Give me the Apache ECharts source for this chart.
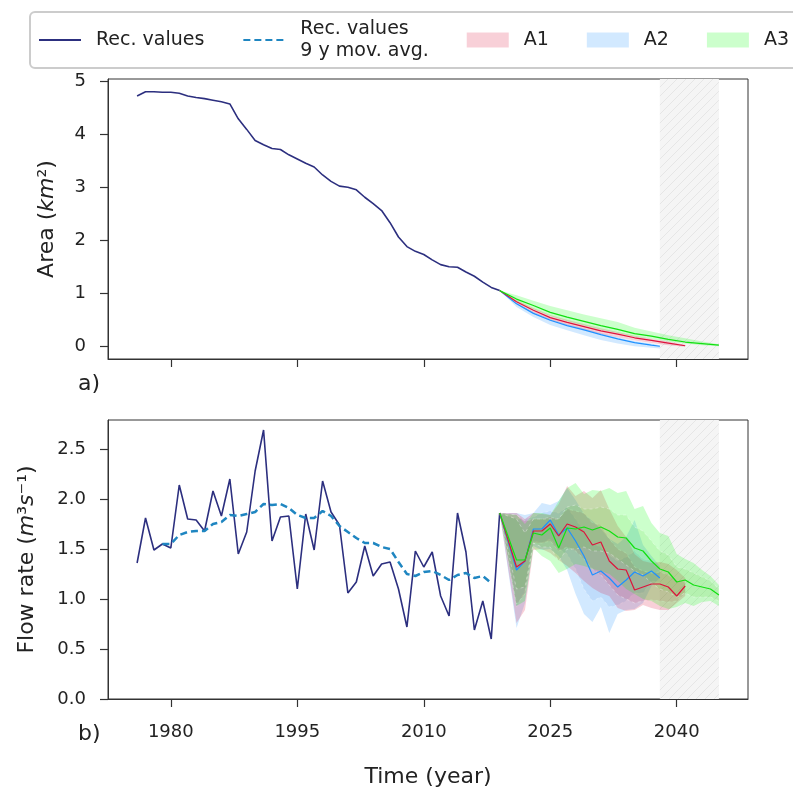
<!DOCTYPE html>
<html>
<head>
<meta charset="utf-8">
<script src="https://cdn.jsdelivr.net/npm/echarts@6/dist/echarts.min.js"></script>
<style>
  html, body { margin: 0; padding: 0; background: #fff; }
  #chart { width: 793px; height: 791px; }
</style>
</head>
<body>
<div id="chart"></div>
<script>
// recorded series, 1976-2019
const recYears = [1976, 1977, 1978, 1979, 1980, 1981, 1982, 1983, 1984, 1985,
  1986, 1987, 1988, 1989, 1990, 1991, 1992, 1993, 1994, 1995,
  1996, 1997, 1998, 1999, 2000, 2001, 2002, 2003, 2004, 2005,
  2006, 2007, 2008, 2009, 2010, 2011, 2012, 2013, 2014, 2015,
  2016, 2017, 2018, 2019];
const areaRec = [4.72, 4.80, 4.80, 4.79, 4.79, 4.77, 4.72, 4.69, 4.67, 4.64,
  4.61, 4.57, 4.29, 4.09, 3.88, 3.80, 3.73, 3.71, 3.61, 3.53,
  3.45, 3.38, 3.23, 3.11, 3.02, 3.00, 2.95, 2.81, 2.69, 2.56,
  2.33, 2.06, 1.88, 1.79, 1.73, 1.63, 1.54, 1.50, 1.49, 1.40,
  1.32, 1.21, 1.11, 1.05];
const flowRec = [1.36, 1.81, 1.49, 1.55, 1.51, 2.14, 1.80, 1.79, 1.68, 2.08,
  1.83, 2.20, 1.45, 1.67, 2.28, 2.69, 1.58, 1.82, 1.83, 1.10,
  1.85, 1.49, 2.18, 1.87, 1.74, 1.06, 1.17, 1.53, 1.23, 1.35,
  1.37, 1.10, 0.72, 1.48, 1.32, 1.47, 1.03, 0.83, 1.86, 1.47,
  0.69, 0.98, 0.60, 1.86];

// 9 y moving average, 1979-2018
const avgYears = [1979, 1980, 1981, 1982, 1983, 1984, 1985, 1986, 1987, 1988,
  1989, 1990, 1991, 1992, 1993, 1994, 1995, 1996, 1997, 1998,
  1999, 2000, 2001, 2002, 2003, 2004, 2005, 2006, 2007, 2008,
  2009, 2010, 2011, 2012, 2013, 2014, 2015, 2016, 2017, 2018];
const flowAvg = [1.55, 1.55, 1.64, 1.67, 1.68, 1.68, 1.75, 1.77, 1.84, 1.83,
  1.85, 1.87, 1.95, 1.94, 1.95, 1.91, 1.84, 1.81, 1.81, 1.88,
  1.83, 1.73, 1.67, 1.61, 1.56, 1.56, 1.52, 1.50, 1.37, 1.25,
  1.23, 1.27, 1.28, 1.24, 1.19, 1.24, 1.26, 1.21, 1.23, 1.16];

// area projections (panel a)
const areaYears = [2019, 2021, 2023, 2025, 2027, 2029, 2031, 2033, 2035, 2037, 2039, 2041, 2043, 2045];
const areaYearsA2 = [2019, 2021, 2023, 2025, 2027, 2029, 2031, 2033, 2035, 2037, 2038];
const areaA1 = [1.05, 0.84, 0.68, 0.54, 0.45, 0.37, 0.29, 0.23, 0.16, 0.11, 0.06, 0.01];
const areaA1Lo = [1.05, 0.80, 0.63, 0.49, 0.40, 0.31, 0.23, 0.17, 0.11, 0.06, 0.02, -0.01];
const areaA1Hi = [1.05, 0.87, 0.72, 0.59, 0.50, 0.42, 0.34, 0.27, 0.20, 0.14, 0.09, 0.03];
const areaA2 = [1.05, 0.80, 0.62, 0.49, 0.39, 0.31, 0.22, 0.14, 0.07, 0.02, 0.00];
const areaA2Lo = [1.05, 0.74, 0.55, 0.40, 0.30, 0.21, 0.12, 0.05, 0.00, -0.03, -0.04];
const areaA2Hi = [1.05, 0.82, 0.65, 0.52, 0.42, 0.34, 0.25, 0.17, 0.10, 0.05, 0.02];
const areaA3 = [1.05, 0.89, 0.77, 0.64, 0.55, 0.47, 0.39, 0.32, 0.24, 0.19, 0.13, 0.08, 0.05, 0.02];
const areaA3Lo = [1.05, 0.85, 0.70, 0.57, 0.47, 0.39, 0.31, 0.25, 0.18, 0.14, 0.09, 0.05, 0.02, 0.00];
const areaA3Hi = [1.05, 0.96, 0.86, 0.76, 0.68, 0.60, 0.53, 0.46, 0.35, 0.28, 0.21, 0.15, 0.09, 0.04];

// flow projections (panel b), no 2020 step
const projYears = [2019, 2021, 2022, 2023, 2024, 2025, 2026, 2027, 2028, 2029,
  2030, 2031, 2032, 2033, 2034, 2035, 2036, 2037, 2038, 2039,
  2040, 2041, 2042, 2043, 2044, 2045];
const flowA1 = [1.86, 1.32, 1.38, 1.68, 1.68, 1.75, 1.63, 1.75, 1.72, 1.67, 1.54, 1.57, 1.38, 1.30, 1.29, 1.09, 1.12, 1.15, 1.15, 1.12, 1.03, 1.13];
const flowA1Lo = [1.86, 0.76, 0.89, 1.49, 1.50, 1.46, 1.39, 1.33, 1.26, 1.18, 1.11, 1.06, 1.03, 0.91, 0.88, 0.89, 0.94, 0.91, 0.89, 0.89, 0.96, 1.03];
const flowA1Hi = [1.86, 1.86, 1.80, 1.86, 1.85, 1.84, 1.95, 2.13, 2.03, 2.08, 2.01, 2.09, 1.90, 1.73, 1.62, 1.45, 1.38, 1.36, 1.37, 1.35, 1.29, 1.21];
const flowA1InLo = [1.86, 0.95, 1.05, 1.56, 1.56, 1.58, 1.48, 1.52, 1.48, 1.40, 1.30, 1.24, 1.14, 1.04, 1.00, 0.96, 0.98, 0.99, 0.98, 0.97, 0.98, 1.07];
const flowA1InHi = [1.86, 1.84, 1.78, 1.80, 1.80, 1.82, 1.80, 1.90, 1.88, 1.86, 1.76, 1.74, 1.60, 1.50, 1.46, 1.32, 1.28, 1.26, 1.27, 1.24, 1.18, 1.17];
const flowA2 = [1.86, 1.29, 1.38, 1.70, 1.70, 1.79, 1.64, 1.71, 1.58, 1.43, 1.24, 1.28, 1.21, 1.12, 1.19, 1.27, 1.23, 1.28, 1.21];
const flowA2Lo = [1.86, 0.71, 0.96, 1.53, 1.49, 1.50, 1.43, 1.29, 1.05, 0.85, 0.77, 0.92, 0.66, 0.85, 0.89, 0.90, 0.96, 1.13, 1.21];
const flowA2Hi = [1.86, 1.86, 1.84, 1.86, 1.96, 1.94, 1.98, 2.11, 1.99, 1.85, 1.78, 1.70, 1.60, 1.55, 1.62, 1.79, 1.54, 1.43, 1.33];
const flowA2InLo = [1.86, 0.92, 1.08, 1.58, 1.56, 1.60, 1.50, 1.45, 1.30, 1.10, 0.98, 1.02, 0.92, 0.94, 0.98, 1.06, 1.06, 1.18, 1.17];
const flowA2InHi = [1.86, 1.80, 1.80, 1.82, 1.86, 1.88, 1.86, 1.92, 1.80, 1.68, 1.56, 1.52, 1.44, 1.38, 1.42, 1.48, 1.40, 1.38, 1.28];
const flowA3 = [1.86, 1.39, 1.39, 1.66, 1.64, 1.71, 1.51, 1.71, 1.70, 1.72, 1.69, 1.72, 1.68, 1.62, 1.61, 1.51, 1.48, 1.38, 1.30, 1.27, 1.17, 1.19, 1.14, 1.12, 1.10, 1.04];
const flowA3Lo = [1.86, 0.93, 0.98, 1.51, 1.43, 1.38, 1.26, 1.30, 1.35, 1.33, 1.30, 1.28, 1.25, 1.18, 1.10, 1.05, 1.00, 0.98, 0.93, 0.90, 0.92, 0.96, 0.93, 0.97, 0.98, 0.93];
const flowA3Hi = [1.86, 1.84, 1.75, 1.86, 1.86, 1.84, 1.98, 2.11, 2.16, 2.05, 2.09, 2.08, 2.11, 2.06, 2.08, 1.90, 1.93, 1.76, 1.66, 1.63, 1.45, 1.40, 1.36, 1.29, 1.23, 1.14];
const flowA3InLo = [1.86, 1.10, 1.12, 1.56, 1.52, 1.52, 1.38, 1.50, 1.50, 1.52, 1.48, 1.48, 1.46, 1.40, 1.34, 1.28, 1.24, 1.16, 1.10, 1.07, 1.02, 1.06, 1.02, 1.02, 1.02, 0.98];
const flowA3InHi = [1.86, 1.80, 1.66, 1.80, 1.80, 1.80, 1.80, 1.92, 1.94, 1.90, 1.90, 1.92, 1.90, 1.84, 1.84, 1.72, 1.68, 1.58, 1.48, 1.44, 1.32, 1.30, 1.26, 1.22, 1.18, 1.10];

const xTicks = [1980, 1995, 2010, 2025, 2040];
const areaTicks = [0, 1, 2, 3, 4, 5];
const flowTicks = [0, 0.5, 1, 1.5, 2, 2.5];
const hatchSpan = [2038, 2045];

const FONT = 'DejaVu Sans';
const REC = '#2c2f7f';
const AVG = '#1f86c1';
const LINE = { A1: '#dc143c', A2: '#1e90ff', A3: '#11e011' };
const FILL = { A1: 'rgba(220,20,60,0.2)', A2: 'rgba(30,144,255,0.2)', A3: 'rgba(0,255,0,0.2)' };
const FILL_IN = { A1: 'rgba(200,30,70,0.13)', A2: 'rgba(40,120,220,0.11)', A3: 'rgba(60,200,20,0.11)' };

// grey hatch for the last years
const hatch = document.createElement('canvas');
hatch.width = 9; hatch.height = 9;
const hc = hatch.getContext('2d');
hc.fillStyle = '#f5f5f5';
hc.fillRect(0, 0, 9, 9);
hc.strokeStyle = '#e6e6e6';
hc.lineWidth = 1;
hc.beginPath();
hc.moveTo(0, 9); hc.lineTo(9, 0);
hc.moveTo(-2, 2); hc.lineTo(2, -2);
hc.moveTo(7, 11); hc.lineTo(11, 7);
hc.stroke();

function pairs(xs, ys) {
  return ys.map((v, i) => [xs[i], v]);
}

function band(name, idx, xs, lo, hi, inner) {
  const fill = inner ? FILL_IN[name] : FILL[name];
  return {
    type: 'custom',
    name: inner ? name + ' inner' : name,
    xAxisIndex: idx,
    yAxisIndex: idx,
    z: 2,
    itemStyle: { color: fill },
    data: lo.map((v, i) => [xs[i], v, hi[i]]),
    encode: { x: 0, y: [1, 2] },
    renderItem: function (params, api) {
      if (params.dataIndex !== 0) return;
      const pts = [];
      for (let i = 0; i < hi.length; i++) pts.push(api.coord([xs[i], hi[i]]));
      for (let i = lo.length - 1; i >= 0; i--) pts.push(api.coord([xs[i], lo[i]]));
      return {
        type: 'polygon',
        shape: { points: pts },
        style: inner
          ? { fill: fill, stroke: 'rgba(255,255,255,0.45)', lineWidth: 0.8, lineDash: [3, 3] }
          : { fill: fill }
      };
    }
  };
}

function line(name, idx, xs, ys, color, width, extra) {
  return Object.assign({
    type: 'line',
    name: name,
    xAxisIndex: idx,
    yAxisIndex: idx,
    z: 4,
    symbol: 'none',
    itemStyle: { color: color },
    lineStyle: { color: color, width: width },
    data: pairs(xs, ys)
  }, extra || {});
}

const hatchArea = {
  silent: true,
  itemStyle: { color: { image: hatch, repeat: 'repeat' } },
  data: [[{ xAxis: hatchSpan[0] }, { xAxis: hatchSpan[1] }]]
};

function xAxis(idx, labels) {
  return {
    type: 'value',
    gridIndex: idx,
    min: 1972.55,
    max: 2048.45,
    axisLine: { show: true, onZero: false, lineStyle: { color: '#333', width: 1 } },
    axisTick: { show: true, length: 8, customValues: xTicks, lineStyle: { color: '#333', width: 1.2 } },
    axisLabel: { show: labels, customValues: xTicks, margin: 24, fontSize: 18, fontFamily: FONT, color: '#222', formatter: v => String(v) },
    splitLine: { show: false },
    name: labels ? 'Time (year)' : '',
    nameLocation: 'middle',
    nameGap: 67,
    nameTextStyle: { fontSize: 22, fontFamily: FONT, color: '#222' }
  };
}

function yAxis(idx, min, max, ticks, name, gap, fmt) {
  return {
    type: 'value',
    gridIndex: idx,
    min: min,
    max: max,
    axisLine: { show: true, onZero: false, lineStyle: { color: '#333', width: 1 } },
    axisTick: { show: true, length: 8, customValues: ticks, lineStyle: { color: '#333', width: 1.2 } },
    axisLabel: { customValues: ticks, margin: 22, fontSize: 18, fontFamily: FONT, color: '#222', formatter: fmt },
    splitLine: { show: false },
    name: name,
    nameLocation: 'middle',
    nameRotate: 90,
    nameGap: gap,
    nameTextStyle: {
      fontSize: 22, fontFamily: FONT, color: '#222',
      rich: { i: { fontSize: 22, fontFamily: FONT, fontStyle: 'italic', color: '#222' } }
    }
  };
}

const chart = echarts.init(document.getElementById('chart'), null, { renderer: 'canvas' });

const option = {
  animation: false,
  backgroundColor: '#fff',
  textStyle: { fontFamily: FONT },
  legend: {
    left: 30,
    top: 12,
    width: 900,
    padding: [6, 8],
    itemGap: 38,
    itemWidth: 42,
    itemHeight: 15,
    borderColor: '#cccccc',
    borderWidth: 2,
    borderRadius: 5,
    backgroundColor: 'rgba(255,255,255,0.8)',
    textStyle: { fontSize: 19, fontFamily: FONT, color: '#222', lineHeight: 22, padding: [0, 0, 0, 10] },
    data: [
      { name: 'Rec. values', itemStyle: { opacity: 0 } },
      { name: 'Rec. values\n9 y mov. avg.', itemStyle: { opacity: 0 } },
      { name: 'A1', icon: 'rect' },
      { name: 'A2', icon: 'rect' },
      { name: 'A3', icon: 'rect' }
    ]
  },
  grid: [
    { left: 108, top: 79, width: 640, height: 280, show: true, borderColor: '#333', borderWidth: 1, backgroundColor: 'transparent' },
    { left: 108, top: 420, width: 640, height: 279, show: true, borderColor: '#333', borderWidth: 1, backgroundColor: 'transparent' }
  ],
  xAxis: [xAxis(0, false), xAxis(1, true)],
  yAxis: [
    yAxis(0, -0.24, 5.04, areaTicks, 'Area ({i|km}²)', 50, v => String(v)),
    yAxis(1, 0, 2.79, flowTicks, 'Flow rate ({i|m}³{i|s}⁻¹)', 70, v => v.toFixed(1))
  ],
  graphic: [
    { type: 'text', left: 78, top: 373, style: { text: 'a)', fontSize: 22, fontFamily: FONT, fill: '#222' } },
    { type: 'text', left: 78, top: 723, style: { text: 'b)', fontSize: 22, fontFamily: FONT, fill: '#222' } }
  ],
  series: [
    line('Rec. values', 0, recYears, areaRec, REC, 1.6, { markArea: hatchArea }),
    band('A2', 0, areaYearsA2, areaA2Lo, areaA2Hi),
    band('A1', 0, areaYears, areaA1Lo, areaA1Hi),
    band('A3', 0, areaYears, areaA3Lo, areaA3Hi),
    line('A2 area', 0, areaYearsA2, areaA2, LINE.A2, 1.2),
    line('A1 area', 0, areaYears, areaA1, LINE.A1, 1.2),
    line('A3 area', 0, areaYears, areaA3, LINE.A3, 1.2),

    line('Rec. values', 1, recYears, flowRec, REC, 1.6, { markArea: hatchArea }),
    line('Rec. values\n9 y mov. avg.', 1, avgYears, flowAvg, AVG, 2.5, { lineStyle: { color: AVG, width: 2.5, type: [7, 4] } }),
    band('A2', 1, projYears, flowA2Lo, flowA2Hi),
    band('A2', 1, projYears, flowA2InLo, flowA2InHi, true),
    band('A1', 1, projYears, flowA1Lo, flowA1Hi),
    band('A1', 1, projYears, flowA1InLo, flowA1InHi, true),
    band('A3', 1, projYears, flowA3Lo, flowA3Hi),
    band('A3', 1, projYears, flowA3InLo, flowA3InHi, true),
    line('A2 flow', 1, projYears, flowA2, LINE.A2, 1.2),
    line('A1 flow', 1, projYears, flowA1, LINE.A1, 1.2),
    line('A3 flow', 1, projYears, flowA3, LINE.A3, 1.2)
  ]
};

chart.setOption(option);
</script>
</body>
</html>
